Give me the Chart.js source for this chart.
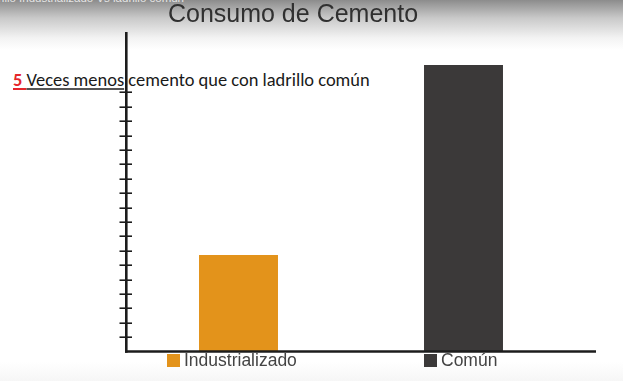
<!DOCTYPE html>
<html>
<head>
<meta charset="utf-8">
<script src="https://cdn.jsdelivr.net/npm/chart.js@4.4.0/dist/chart.umd.min.js"></script>
<style>
  html, body { margin: 0; padding: 0; }
  body {
    width: 623px; height: 381px; overflow: hidden; position: relative;
    background: linear-gradient(to bottom, #8c8c8c 0px, #c9c9c9 18px, #f3f3f3 38px, #ffffff 50px, #ffffff 362px, #f6f6f6 381px);
  }
  #caption {
    position: absolute; right: calc(623px - 184px); top: -8px; white-space: nowrap;
    font: 11.5px "Liberation Sans", Arial, sans-serif; color: #e6e6e6; line-height: 12px;
  }
  #note {
    position: absolute; left: 13px; top: 70px; white-space: nowrap; z-index: 1;
    font-family: Carlito, Calibri, Lato, sans-serif; font-size: 15px; line-height: 1; color: #1a1a1a;
  }
  #note .num { color: #e5262b; font-weight: bold; text-decoration: underline; text-decoration-color: #e5262b; text-decoration-thickness: 1.5px; text-underline-offset: 2px; }
  #note .ul { text-decoration: underline; text-decoration-color: #555; text-decoration-thickness: 1.5px; text-underline-offset: 2px; }
  #chart { position: absolute; left: 0; top: 0; z-index: 2; }
  #legend { position: absolute; left: 0; top: 0; z-index: 3; }
  .lg-item { position: absolute; top: 351.9px; white-space: nowrap; font: 17.5px "Liberation Sans", Arial, sans-serif; line-height: 17.5px; color: #444; }
  .lg-item:nth-child(1) { left: 167px; }
  .lg-item:nth-child(2) { left: 424px; }
  .lg-box { position: absolute; left: 0; top: 2.2px; width: 13px; height: 13px; }
  .lg-text { position: absolute; left: 17px; top: 0; }
</style>
</head>
<body>
<div id="caption">Ladrillo Industrializado Vs ladrillo común</div>
<div id="note"><span class="num">5 </span><span class="ul">Veces menos</span> cemento que con ladrillo común</div>
<canvas id="chart" width="623" height="381"></canvas>
<div id="legend"></div>
<script>
// ---- data ----
const categories = ['Industrializado', 'Común'];
const seriesLabels = ['Industrializado', 'Común'];
const industrializadoValues = [6.7, null];
const comunValues = [null, 19.9];
const seriesColors = ['#e3931b', '#3b3939'];
const markedTickMin = 1;
const markedTickMax = 18;

// fit annotation text width and baseline
(function () {
  const note = document.getElementById('note');
  const targetW = 357;
  let fs = 15;
  note.style.fontSize = fs + 'px';
  const w = note.getBoundingClientRect().width;
  fs = fs * targetW / w;
  note.style.fontSize = fs + 'px';
  const probe = document.createElement('span');
  probe.style.cssText = 'display:inline-block;width:0;height:0;';
  note.appendChild(probe);
  const base = probe.getBoundingClientRect().top;
  note.style.top = (70 + (86 - base)) + 'px';
  note.removeChild(probe);
})();

const axesPlugin = {
  id: 'axesPlugin',
  afterDraw(chart) {
    const ctx = chart.ctx;
    const a = chart.chartArea;
    const y = chart.scales.y;
    ctx.save();
    ctx.strokeStyle = '#1c1c1c';
    // tick marks crossing the axis
    ctx.lineWidth = 1.6;
    y.ticks.forEach(t => {
      if (t.value >= markedTickMin && t.value <= markedTickMax) {
        const py = Math.round(y.getPixelForValue(t.value)) + 0.2;
        ctx.beginPath();
        ctx.moveTo(a.left - 6.5, py);
        ctx.lineTo(a.left + 6, py);
        ctx.stroke();
      }
    });
    ctx.lineWidth = 2.6;
    ctx.beginPath();
    ctx.moveTo(a.left + 0.3, a.top);
    ctx.lineTo(a.left + 0.3, a.bottom + 1.2);
    ctx.stroke();
    ctx.beginPath();
    ctx.moveTo(a.left - 1, a.bottom);
    ctx.lineTo(a.right + 20, a.bottom);
    ctx.stroke();
    ctx.restore();
  }
};

const chart = new Chart(document.getElementById('chart'), {
  type: 'bar',
  data: {
    labels: categories,
    datasets: [
      { label: seriesLabels[0], data: industrializadoValues, backgroundColor: seriesColors[0] },
      { label: seriesLabels[1], data: comunValues, backgroundColor: seriesColors[1] }
    ]
  },
  options: {
    responsive: false,
    animation: false,
    devicePixelRatio: 1,
    skipNull: true,
    categoryPercentage: 1,
    barPercentage: 0.351,
    layout: { padding: { left: 10, right: 47, top: 0, bottom: 29.5 } },
    plugins: {
      legend: { display: false },
      tooltip: { enabled: false },
      title: {
        display: true,
        text: 'Consumo de Cemento',
        color: '#303030',
        font: { family: '"Liberation Sans", Arial, sans-serif', size: 25, weight: 'normal', lineHeight: 1.2 },
        padding: { top: 0.3, bottom: 1.7 }
      }
    },
    scales: {
      x: { display: false },
      y: {
        display: true,
        min: 0,
        max: 22.2,
        ticks: { display: false, stepSize: 1 },
        grid: { display: false, drawTicks: false },
        border: { display: false },
        afterFit: s => { s.width = 116; }
      }
    }
  },
  plugins: [axesPlugin]
});

// legend built from the chart's datasets
const legend = document.getElementById('legend');
chart.data.datasets.forEach(ds => {
  const item = document.createElement('div');
  item.className = 'lg-item';
  const box = document.createElement('span');
  box.className = 'lg-box';
  box.style.background = ds.backgroundColor;
  const txt = document.createElement('span');
  txt.className = 'lg-text';
  txt.textContent = ds.label;
  item.appendChild(box);
  item.appendChild(txt);
  legend.appendChild(item);
});
</script>
</body>
</html>
